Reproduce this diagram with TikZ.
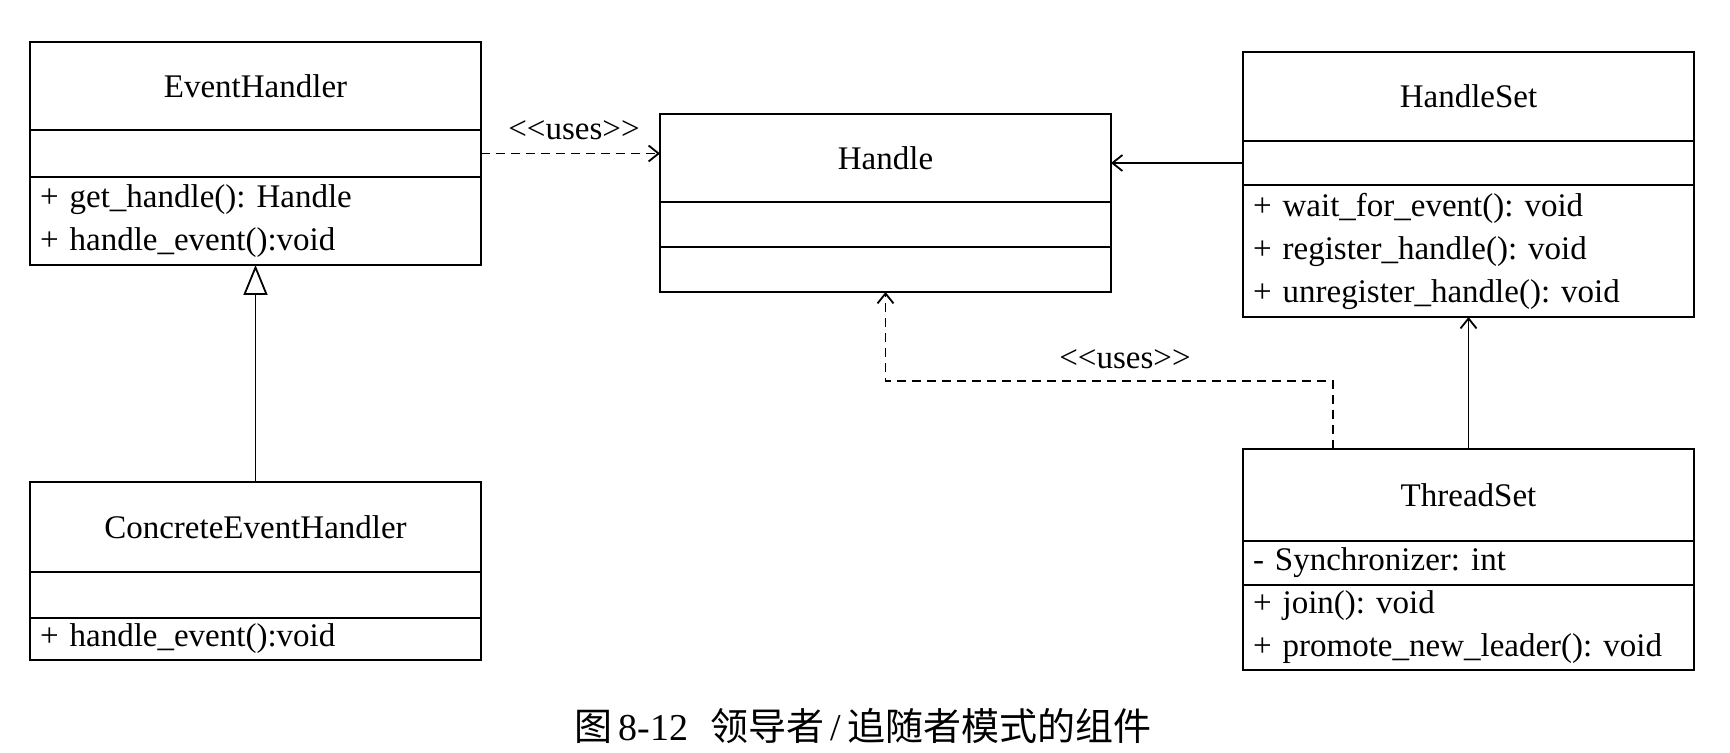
\documentclass[tikz,border=0pt]{standalone}
\usepackage{fontspec}
\setmainfont{Liberation Serif}
\newfontfamily\cjk{Noto Sans CJK SC}
\usetikzlibrary{arrows.meta, positioning, calc}
\frenchspacing
\newcommand{\usestag}{<\kern0pt<uses>\kern0pt>}

\begin{document}
\begin{tikzpicture}[
    x=0.5pt, y=0.5pt,
    every node/.style={outer sep=0pt},
    classhead/.style={draw, line width=0.9pt, anchor=north west, minimum width=225.5pt, minimum height=44pt, font=\fontsize{16.5}{21.5}\selectfont},
    classpart/.style={draw, line width=0.9pt, text width=215.5pt, inner xsep=5pt, inner ysep=2pt, align=left, font=\fontsize{16.5}{21.5}\selectfont},
    lbl/.style={font=\fontsize{16.5}{20}\selectfont},
    uses/.style={-{Straight Barb[length=5pt, width=8pt]}, line width=0.9pt, dash pattern=on 4.5pt off 3pt},
    assoc/.style={-{Straight Barb[length=5pt, width=8pt]}, line width=0.9pt},
    inherit/.style={-{Triangle[open, length=15pt, width=12pt]}, line width=0.9pt}
]
    \useasboundingbox (0,0) rectangle (1730,-753);

    % EventHandler
    \node[classhead] (ehhead) at (30,-42) {EventHandler};
    \node[classpart, below=0pt of ehhead, minimum height=23.5pt] (ehattr) {};
    \node[classpart, below=0pt of ehattr, minimum height=44pt] (ehops) {+ get\_handle(): Handle\\+ handle\_event():void};

    % ConcreteEventHandler
    \node[classhead, minimum height=45pt] (cehead) at (30,-482) {ConcreteEventHandler};
    \node[classpart, below=0pt of cehead, minimum height=23pt] (ceattr) {};
    \node[classpart, below=0pt of ceattr, minimum height=21pt] (ceops) {+ handle\_event():void};

    % Handle
    \node[classhead] (hhead) at (660,-114) {Handle};
    \node[classpart, below=0pt of hhead, minimum height=22.5pt] (hattr) {};
    \node[classpart, below=0pt of hattr, minimum height=22.5pt] (hops) {};

    % HandleSet
    \node[classhead, minimum height=44.5pt] (hshead) at (1243,-52) {HandleSet};
    \node[classpart, below=0pt of hshead, minimum height=22pt] (hsattr) {};
    \node[classpart, below=0pt of hsattr, minimum height=66pt] (hsops) {+ wait\_for\_event(): void\\+ register\_handle(): void\\+ unregister\_handle(): void};

    % ThreadSet
    \node[classhead, minimum height=46pt] (tshead) at (1243,-449) {ThreadSet};
    \node[classpart, below=0pt of tshead, minimum height=22pt] (tsattr) {- Synchronizer: int};
    \node[classpart, below=0pt of tsattr, minimum height=42.5pt] (tsops) {+ join(): void\\+ promote\_new\_leader(): void};

    % connectors
    \draw[uses] (ehattr.east) -- (ehattr.east -| hhead.west);
    \node[lbl] (uses1) at (574,-130) {\usestag};
    \draw[assoc] (hsattr.west) -- (hsattr.west -| hhead.east);
    \draw[inherit] (cehead.north) -- (cehead.north |- ehops.south);
    \coordinate (tsdep) at ($(tshead.north west)!0.2!(tshead.north east)$);
    \draw[uses] (tsdep) |- ([yshift=-44.5pt]hops.south) -- (hops.south);
    \node[lbl] (uses2) at (1125,-359) {\usestag};
    \draw[assoc] (tshead.north) -- (hsops.south);

    % caption
    \node[font=\fontsize{19}{22}\selectfont] (caption) at (863,-726) {{\cjk 图}\,8-12\hspace{11pt}{\cjk 领导者}\,/\,{\cjk 追随者模式的组件}};
\end{tikzpicture}
\end{document}
